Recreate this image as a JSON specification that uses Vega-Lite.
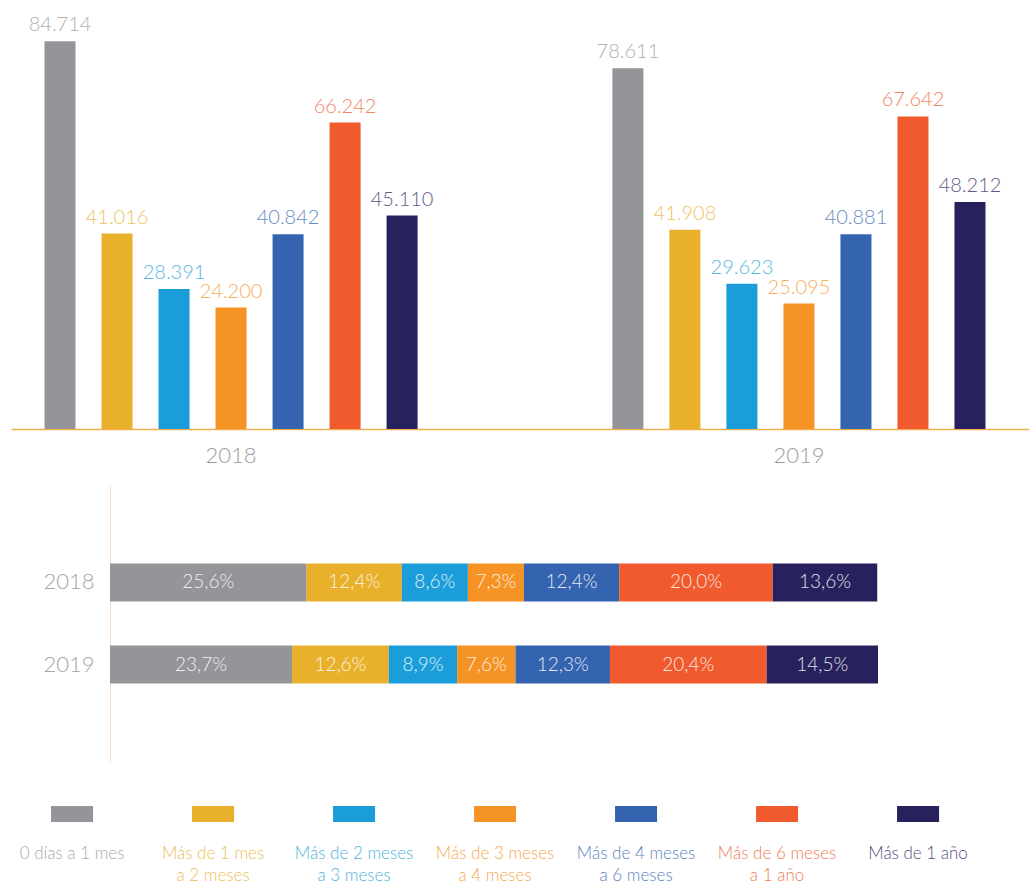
{
  "$schema": "https://vega.github.io/schema/vega-lite/v6.json",
  "padding": {"left": 11, "top": 0, "right": 0, "bottom": 0},
  "background": "white",
  "spacing": 20,
  "config": {
    "view": {"stroke": null},
    "font": "Lato",
    "locale": {"number": {"decimal": ",", "thousands": ".", "grouping": [3], "currency": ["", " €"]}}
  },
  "datasets": {
    "rows": [
      {"year": "2018", "cat": "0 días a 1 mes", "idx": 1, "value": 84714, "pct": 0.256},
      {"year": "2018", "cat": "Más de 1 mes a 2 meses", "idx": 2, "value": 41016, "pct": 0.124},
      {"year": "2018", "cat": "Más de 2 meses a 3 meses", "idx": 3, "value": 28391, "pct": 0.086},
      {"year": "2018", "cat": "Más de 3 meses a 4 meses", "idx": 4, "value": 24200, "pct": 0.073},
      {"year": "2018", "cat": "Más de 4 meses a 6 meses", "idx": 5, "value": 40842, "pct": 0.124},
      {"year": "2018", "cat": "Más de 6 meses a 1 año", "idx": 6, "value": 66242, "pct": 0.200},
      {"year": "2018", "cat": "Más de 1 año", "idx": 7, "value": 45110, "pct": 0.136},
      {"year": "2019", "cat": "0 días a 1 mes", "idx": 1, "value": 78611, "pct": 0.237},
      {"year": "2019", "cat": "Más de 1 mes a 2 meses", "idx": 2, "value": 41908, "pct": 0.126},
      {"year": "2019", "cat": "Más de 2 meses a 3 meses", "idx": 3, "value": 29623, "pct": 0.089},
      {"year": "2019", "cat": "Más de 3 meses a 4 meses", "idx": 4, "value": 25095, "pct": 0.076},
      {"year": "2019", "cat": "Más de 4 meses a 6 meses", "idx": 5, "value": 40881, "pct": 0.123},
      {"year": "2019", "cat": "Más de 6 meses a 1 año", "idx": 6, "value": 67642, "pct": 0.204},
      {"year": "2019", "cat": "Más de 1 año", "idx": 7, "value": 48212, "pct": 0.145}
    ],
    "legend": [
      {"cat": "0 días a 1 mes", "label": "0 días a 1 mes"},
      {"cat": "Más de 1 mes a 2 meses", "label": "Más de 1 mes\na 2 meses"},
      {"cat": "Más de 2 meses a 3 meses", "label": "Más de 2 meses\na 3 meses"},
      {"cat": "Más de 3 meses a 4 meses", "label": "Más de 3 meses\na 4 meses"},
      {"cat": "Más de 4 meses a 6 meses", "label": "Más de 4 meses\na 6 meses"},
      {"cat": "Más de 6 meses a 1 año", "label": "Más de 6 meses\na 1 año"},
      {"cat": "Más de 1 año", "label": "Más de 1 año"}
    ]
  },
  "vconcat": [
    {
      "width": 1018,
      "height": 429,
      "data": {"name": "rows"},
      "encoding": {
        "x": {
          "field": "year", "type": "nominal",
          "scale": {"paddingInner": 0.343, "paddingOuter": 0.0678, "align": 0.435},
          "axis": {"title": null, "ticks": false, "domainColor": "#f2ae4f", "domainWidth": 1.5, "labelFontSize": 22, "labelColor": "#9b9da2", "labelPadding": 16, "labelAngle": 0, "labelFontWeight": 300}
        },
        "xOffset": {
          "field": "cat", "type": "nominal",
          "sort": ["0 días a 1 mes", "Más de 1 mes a 2 meses", "Más de 2 meses a 3 meses", "Más de 3 meses a 4 meses", "Más de 4 meses a 6 meses", "Más de 6 meses a 1 año", "Más de 1 año"],
          "scale": {"paddingInner": 0.456, "paddingOuter": 0}
        },
        "y": {"field": "value", "type": "quantitative", "scale": {"domain": [-3400, 94100], "nice": false, "zero": false}, "axis": null},
        "color": {
          "field": "cat", "type": "nominal",
          "scale": {"domain": ["0 días a 1 mes", "Más de 1 mes a 2 meses", "Más de 2 meses a 3 meses", "Más de 3 meses a 4 meses", "Más de 4 meses a 6 meses", "Más de 6 meses a 1 año", "Más de 1 año"], "range": ["#939598", "#e8b02b", "#1b9dd9", "#f69325", "#3464b0", "#f05a2c", "#27225d"]},
          "legend": null
        }
      },
      "layer": [
        {"mark": {"type": "bar"}, "encoding": {"y2": {"datum": -3400}}},
        {"mark": {"type": "text", "baseline": "alphabetic", "dy": -10, "fontSize": 20, "fontWeight": 300, "opacity": 0.75},
         "encoding": {"text": {"field": "value", "type": "quantitative", "format": ",d"}}}
      ]
    },
    {
      "width": 1018,
      "height": 275,
      "data": {"name": "rows"},
      "transform": [
        {"stack": "pct", "groupby": ["year"], "sort": [{"field": "idx", "order": "ascending"}], "as": ["p0", "p1"]},
        {"calculate": "(datum.p0 + datum.p1) / 2", "as": "pm"}
      ],
      "encoding": {
        "y": {
          "field": "year", "type": "nominal",
          "scale": {"paddingInner": 0.537, "paddingOuter": 0.945},
          "axis": {"title": null, "ticks": false, "offset": -99, "domainColor": "#f9dcc4", "labelFontSize": 22, "labelColor": "#a3a5aa", "labelPadding": 16, "labelFontWeight": 300}
        }
      },
      "layer": [
        {
          "mark": {"type": "bar"},
          "encoding": {
            "x": {"field": "p0", "type": "quantitative", "scale": {"domain": [-0.1289, 1.1966], "nice": false, "zero": false}, "axis": null},
            "x2": {"field": "p1"},
            "color": {
              "field": "cat", "type": "nominal",
              "scale": {"domain": ["0 días a 1 mes", "Más de 1 mes a 2 meses", "Más de 2 meses a 3 meses", "Más de 3 meses a 4 meses", "Más de 4 meses a 6 meses", "Más de 6 meses a 1 año", "Más de 1 año"], "range": ["#939598", "#e8b02b", "#1b9dd9", "#f69325", "#3464b0", "#f05a2c", "#27225d"]},
              "legend": null
            }
          }
        },
        {
          "mark": {"type": "text", "color": "white", "opacity": 0.85, "fontSize": 19, "fontWeight": 300},
          "encoding": {
            "x": {"field": "pm", "type": "quantitative"},
            "text": {"field": "pct", "type": "quantitative", "format": ".1%"}
          }
        }
      ]
    },
    {
      "width": 1018,
      "height": 66,
      "data": {"name": "legend"},
      "encoding": {
        "x": {
          "field": "cat", "type": "nominal",
          "sort": ["0 días a 1 mes", "Más de 1 mes a 2 meses", "Más de 2 meses a 3 meses", "Más de 3 meses a 4 meses", "Más de 4 meses a 6 meses", "Más de 6 meses a 1 año", "Más de 1 año"],
          "scale": {"type": "point", "padding": 0.61, "align": 0.355},
          "axis": null
        },
        "color": {
          "field": "cat", "type": "nominal",
          "scale": {"domain": ["0 días a 1 mes", "Más de 1 mes a 2 meses", "Más de 2 meses a 3 meses", "Más de 3 meses a 4 meses", "Más de 4 meses a 6 meses", "Más de 6 meses a 1 año", "Más de 1 año"], "range": ["#939598", "#e8b02b", "#1b9dd9", "#f69325", "#3464b0", "#f05a2c", "#27225d"]},
          "legend": null
        }
      },
      "layer": [
        {"mark": {"type": "point", "filled": true, "opacity": 1, "size": 1764, "shape": "M-1,-0.381H1V0.381H-1Z"}},
        {"mark": {"type": "text", "baseline": "top", "dy": 32, "fontSize": 17, "lineHeight": 22, "opacity": 0.8, "fontWeight": 300, "lineBreak": "\n"},
         "encoding": {"text": {"field": "label", "type": "nominal"}}}
      ]
    }
  ]
}
